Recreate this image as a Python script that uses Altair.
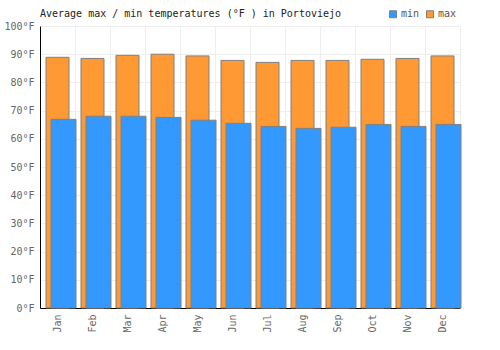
import altair as alt
import pandas as pd

months = ["Jan", "Feb", "Mar", "Apr", "May", "Jun", "Jul", "Aug", "Sep", "Oct", "Nov", "Dec"]
max_f = [88.9, 88.5, 89.6, 90.0, 89.4, 87.8, 87.1, 87.8, 87.8, 88.2, 88.5, 89.4]
min_f = [66.9, 68.0, 68.0, 67.6, 66.6, 65.5, 64.4, 63.7, 64.1, 65.1, 64.4, 65.1]

rows = []
for m, lo, hi in zip(months, min_f, max_f):
    rows.append({"month": m, "series": "max", "temp": hi})
    rows.append({"month": m, "series": "min", "temp": lo})
df = pd.DataFrame(rows)

FONT = "DejaVu Sans Mono"
BLUE = "#3399ff"
ORANGE = "#ff9933"

xscale = alt.Scale(domain=months, paddingInner=0, paddingOuter=0)
yscale = alt.Scale(domain=[0, 100], nice=False)
cscale = alt.Scale(domain=["min", "max"], range=[BLUE, ORANGE])

yaxis = alt.Axis(values=list(range(0, 101, 10)), labelExpr="datum.value + '°F'",
                 title=None, tickSize=0, ticks=False, labelPadding=6, domainColor="#000000",
                 gridColor="#eeeeee", labelColor="#666666", labelFont=FONT, labelFontSize=10)

color = alt.Color("series:N", scale=cscale,
                  legend=alt.Legend(title=None, orient="none", direction="horizontal",
                                    legendX=348, legendY=-17, symbolType="square",
                                    symbolSize=49, symbolStrokeColor="#808080",
                                    symbolStrokeWidth=1, symbolOpacity=1,
                                    labelFont=FONT, labelFontSize=10, labelColor="#555555",
                                    columnPadding=4, labelOffset=3, padding=0))

base = alt.Chart(df)

grid_layer = base.transform_filter("datum.series == 'max'").mark_bar(opacity=0).encode(
    x=alt.X("month:N", sort=months, scale=xscale,
            axis=alt.Axis(title=None, orient="bottom", labels=False, ticks=False, domain=False,
                          grid=True, gridColor="#eeeeee", bandPosition=0)),
    y=alt.Y("temp:Q", scale=yscale, axis=yaxis),
)

max_layer = base.transform_filter("datum.series == 'max'").mark_bar(
    width=23, stroke="#808080", strokeWidth=1, opacity=1
).encode(
    x=alt.X("month:N", sort=months, scale=xscale,
            axis=alt.Axis(title=None, orient="bottom", labelAngle=270, labelAlign="right",
                          labelBaseline="middle", labelPadding=6, ticks=False,
                          grid=False, domainColor="#000000", labelColor="#666666",
                          labelFont=FONT, labelFontSize=10)),
    y=alt.Y("temp:Q", scale=yscale, axis=yaxis),
    color=color,
)

min_layer = base.transform_filter("datum.series == 'min'").mark_bar(
    width=25, xOffset=6, stroke="#808080", strokeWidth=1, opacity=1
).encode(
    x=alt.X("month:N", sort=months, scale=xscale, axis=None),
    y=alt.Y("temp:Q", scale=yscale, axis=yaxis),
    color=color,
)

chart = alt.layer(grid_layer, max_layer, min_layer).resolve_axis(x="independent").properties(
    width=420, height=282,
    autosize=alt.AutoSizeParams(type="none"),
    padding={"left": 40, "top": 26, "right": 40, "bottom": 42},
    title=alt.TitleParams("Average max / min temperatures (°F ) in Portoviejo",
                          anchor="start", frame="group", font=FONT, fontSize=10,
                          fontWeight="normal", color="#222222", offset=-10),
).configure_view(stroke="#eeeeee")

chart.save("out.html", embed_options={"renderer": "svg", "actions": False})
